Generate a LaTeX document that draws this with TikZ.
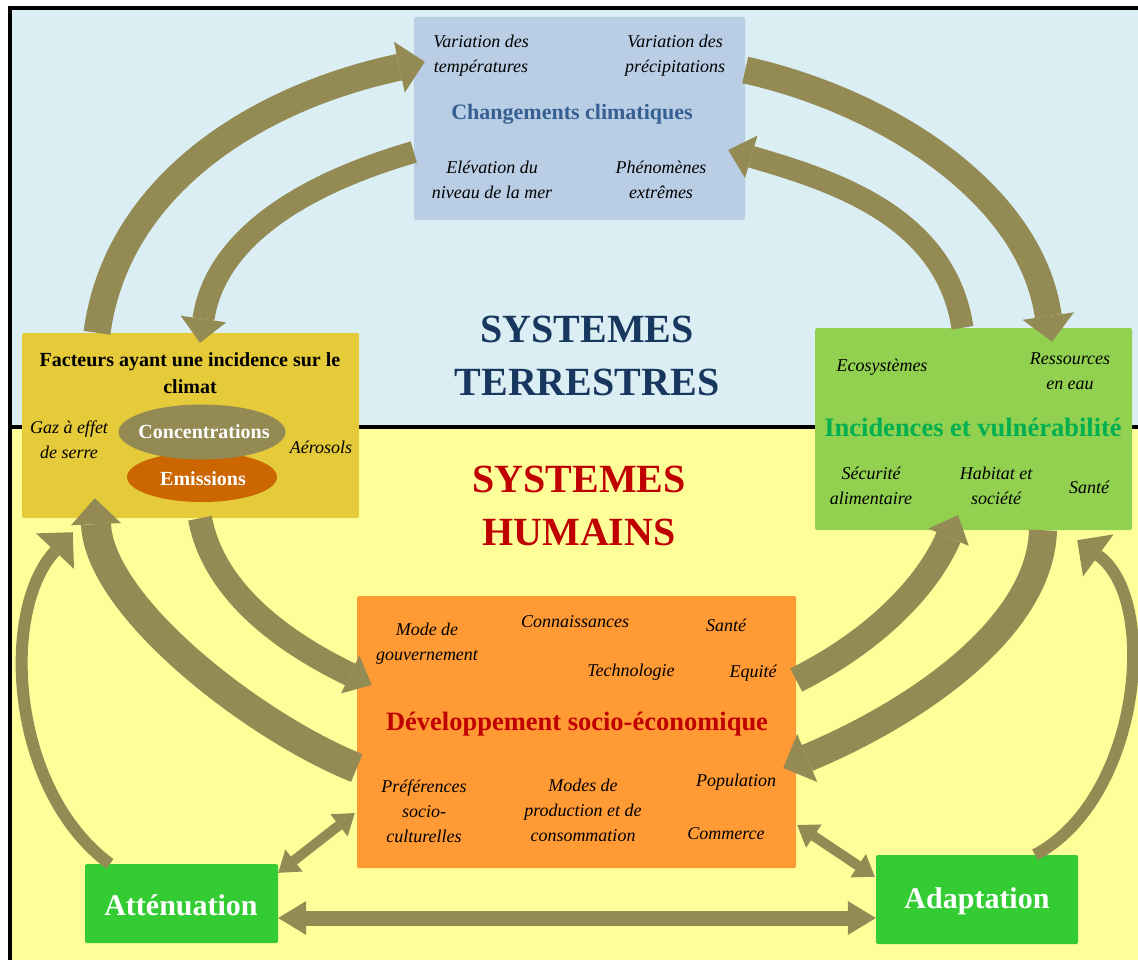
\documentclass[tikz,border=0pt]{standalone}
\usepackage{fontspec}
\setmainfont{Liberation Serif}
\usetikzlibrary{arrows.meta,shapes.geometric}
\definecolor{bgblue}{HTML}{DAEEF3}
\definecolor{bgyellow}{HTML}{FFFF99}
\definecolor{ccblue}{HTML}{B9CDE5}
\definecolor{factgold}{HTML}{E5CA3A}
\definecolor{incgreen}{HTML}{92D050}
\definecolor{devorange}{HTML}{FF9A35}
\definecolor{boxgreen}{HTML}{33CC33}
\definecolor{arrowc}{HTML}{948A54}
\definecolor{emisc}{HTML}{CC6600}
\definecolor{titleblue}{HTML}{376092}
\definecolor{navy}{HTML}{17375E}
\definecolor{darkred}{HTML}{C00000}
\definecolor{titlegreen}{HTML}{00B050}
\tikzset{
  box/.style={draw=none, rounded corners=1.5pt, inner sep=0pt},
  itext/.style={font=\fontsize{18}{25}\selectfont\itshape, align=center, inner sep=0pt, text=black},
  btitle/.style={font=\fontsize{#1}{#1}\selectfont\bfseries, align=center, inner sep=0pt},
  bigsys/.style={font=\fontsize{40}{53}\selectfont\bfseries, align=center, inner sep=0pt},
  barrow/.style n args={3}{draw=arrowc, line width=#1, -{Triangle[length=#2,width=#3,line width=0pt]}},
  darrow/.style n args={3}{draw=arrowc, line width=#1, {Triangle[length=#2,width=#3,line width=0pt]}-{Triangle[length=#2,width=#3,line width=0pt]}},
}
\begin{document}
\begin{tikzpicture}[x=1pt,y=-1pt]
\useasboundingbox (0,0) rectangle (1138,960);
% background
\begin{scope}
\clip (0,0) rectangle (1138,960);
\fill[white] (0,0) rectangle (1138,960);
\fill[bgblue] (10,8) rectangle (1160,427);
\fill[bgyellow] (10,427) rectangle (1160,980);
\draw[black, line width=4pt] (10,8) rectangle (1160,990);
\draw[black, line width=4pt] (10,427) -- (1160,427);
\end{scope}

% system labels
\node[bigsys, text=navy] (terr) at (587,356) {SYSTEMES\\TERRESTRES};
\node[bigsys, text=darkred] (hum) at (579,506) {SYSTEMES\\HUMAINS};

% boxes
\node[box, fill=ccblue, minimum width=331pt, minimum height=203pt] (cc) at (579.5,118.5) {};
\node[box, fill=factgold, minimum width=337pt, minimum height=185pt] (fact) at (190.5,425.5) {};
\node[box, fill=incgreen, minimum width=317pt, minimum height=202pt] (inc) at (973.5,429) {};
\node[box, fill=devorange, minimum width=439pt, minimum height=272pt] (dev) at (576.5,732) {};
\node[box, fill=boxgreen, minimum width=193pt, minimum height=79pt] (att) at (181.5,903.5) {};
\node[box, fill=boxgreen, minimum width=202pt, minimum height=89pt] (ada) at (977,899.5) {};

% climate change box texts
\node[itext] (t1) at (481,56) {Variation des\\températures};
\node[itext] (t2) at (675,56) {Variation des\\précipitations};
\node[btitle=22, text=titleblue] (cctitle) at (572,114) {Changements climatiques};
\node[itext] (t3) at (492,180) {Elévation du\\niveau de la mer};
\node[itext] (t4) at (661,180) {Phénomènes\\extrêmes};

% factors box texts
\node[font=\fontsize{20}{27}\selectfont\bfseries, align=center, inner sep=0pt] (facttitle) at (190,373) {Facteurs ayant une incidence sur le\\climat};
\node[itext] (gaz) at (69,440) {Gaz à effet\\de serre};
\node[itext] (aer) at (321,447) {Aérosols};
\node[ellipse, fill=emisc, minimum width=150pt, minimum height=50pt, inner sep=0pt] (emis) at (202,477) {};
\node[ellipse, fill=arrowc, minimum width=167pt, minimum height=55pt, inner sep=0pt] (conc) at (202,432) {};
\node[btitle=20, text=white] (conct) at (204,432) {Concentrations};
\node[btitle=20, text=white] (emist) at (203,479) {Emissions};

% impacts box texts
\node[itext] (eco) at (882,367) {Ecosystèmes};
\node[itext] (res) at (1070,371) {Ressources\\en eau};
\node[btitle=26.5, text=titlegreen] (inctitle) at (973,427) {Incidences et vulnérabilité};
\node[itext] (secu) at (871,486) {Sécurité\\alimentaire};
\node[itext] (hab) at (996,486) {Habitat et\\société};
\node[itext] (sante1) at (1089,487) {Santé};

% development box texts
\node[itext] (gouv) at (427,644) {Mode de\\gouvernement};
\node[itext] (conn) at (575,622) {Connaissances};
\node[itext] (sante2) at (726,625) {Santé};
\node[itext] (tech) at (631,672) {Technologie};
\node[itext] (equi) at (753,673) {Equité};
\node[btitle=26.5, text=darkred] (devtitle) at (577,724) {Développement socio-économique};
\node[itext] (pref) at (424,811) {Préférences\\socio-\\culturelles};
\node[itext] (modes) at (583,810) {Modes de\\production et de\\consommation};
\node[itext] (pop) at (736,782) {Population};
\node[itext] (comm) at (726,834) {Commerce};

% green boxes texts
\node[btitle=30, text=white] (attt) at (181,905) {Atténuation};
\node[btitle=30, text=white] (adat) at (977,901) {Adaptation};

% big curved arrows
\draw[barrow={27pt}{26pt}{52pt}] ([xshift=-93.5pt]fact.north) .. controls +(20,-150) and +(-165,35) .. ([xshift=11pt,yshift=-45pt]cc.north west);
\draw[barrow={22pt}{24pt}{46pt}] ([yshift=-33.5pt]cc.west) .. controls +(-114,33) and +(15,-103) .. ([xshift=9.5pt,yshift=-10pt]fact.north);
\draw[barrow={27pt}{26pt}{52pt}] ([yshift=48.5pt]cc.east) .. controls +(135,30) and +(-22,-152) .. ([xshift=78.5pt,yshift=-14pt]inc.north);
\draw[barrow={22pt}{24pt}{44pt}] ([xshift=-11pt]inc.north) .. controls +(-17,-113) and +(102,30) .. ([xshift=-17pt,yshift=-31.5pt]cc.east);
\draw[barrow={24pt}{24pt}{42pt}] ([xshift=9.5pt]fact.south) .. controls +(15,82) and +(-72,-35) .. ([xshift=15pt,yshift=47pt]dev.west);
\draw[barrow={30pt}{26pt}{50pt}] ([yshift=-36pt]dev.west) .. controls +(-100,-40) and +(5,110) .. ([xshift=73pt,yshift=20pt]fact.south west);
\draw[barrow={26pt}{24pt}{44pt}] ([yshift=52pt]dev.east) .. controls +(80,-40) and +(-30,70) .. ([xshift=-15.5pt,yshift=15pt]inc.south);
\draw[barrow={28pt}{26pt}{52pt}] ([xshift=69.5pt]inc.south) .. controls +(-3,100) and +(127,-53) .. ([xshift=-13pt,yshift=-36pt]dev.east);
% thin curved arrows from mitigation / adaptation
\draw[barrow={12pt}{26pt}{52pt}] ([xshift=25pt]att.north west) .. controls +(-100,-74) and +(-73,78) .. ([xshift=51pt,yshift=-14pt]fact.south west);
\draw[barrow={12pt}{26pt}{52pt}] ([xshift=58pt]ada.north) .. controls +(105,-55) and +(83,60) .. ([xshift=-55pt,yshift=-10pt]inc.south east);
% double arrows
\draw[darrow={10pt}{20pt}{28pt}] ([yshift=-9pt]att.north east) -- ([xshift=-2pt,yshift=-81pt]dev.west);
\draw[darrow={10pt}{20pt}{28pt}] ([xshift=1pt,yshift=-93pt]dev.east) -- ([xshift=-1pt,yshift=-22pt]ada.north west);
\draw[darrow={15pt}{28pt}{34pt}] ([yshift=-14.5pt]att.east) -- ([yshift=-18.5pt]ada.west);
\end{tikzpicture}
\end{document}
